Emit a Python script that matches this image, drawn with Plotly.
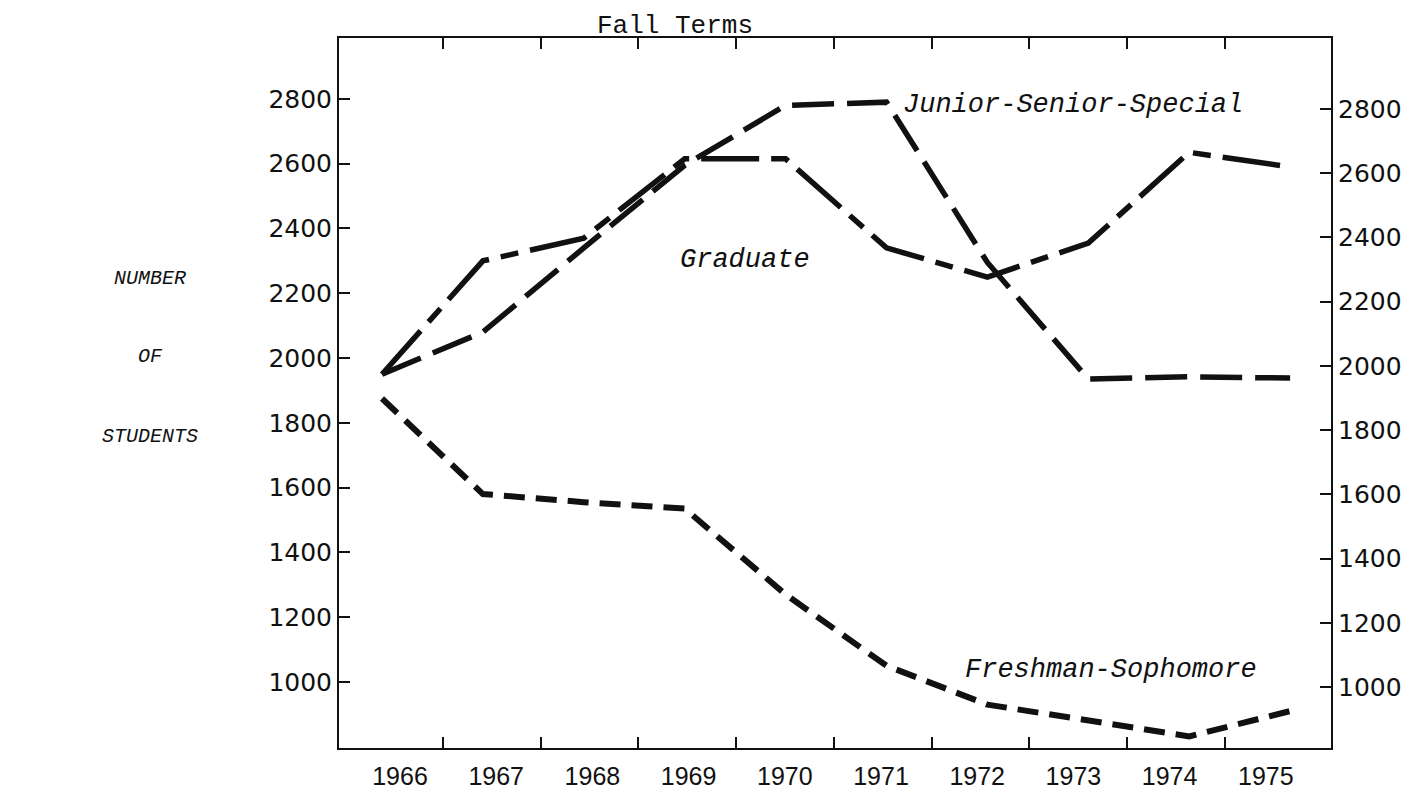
import plotly.graph_objects as go

# ---- data ----
years = [1966, 1967, 1968, 1969, 1970, 1971, 1972, 1973, 1974, 1975]
year_labels = [str(y) for y in years]
junior_senior_special = [1950, 2080, 2340, 2595, 2780, 2790, 2295, 1935, 1942, 1938]
graduate = [1950, 2300, 2370, 2615, 2615, 2340, 2250, 2355, 2635, 2590]
freshman_sophomore = [1875, 1580, 1555, 1535, 1270, 1050, 930, 880, 832, 910]
y_ticks = [1000, 1200, 1400, 1600, 1800, 2000, 2200, 2400, 2600, 2800]

# ---- layout geometry (target pixels in the 1409x791 page) ----
OFF = 8                                # default page body margin
W, H = 1409 - OFF, 791 - OFF
L, R, T, B = 339, 1331, 38, 748
x0_px, step_px = 382, 100.9          # pixel of first year, pixels per year
to_x = lambda px: years[0] + (px - x0_px) / step_px
x_range = [to_x(L), to_x(R)]
tick_pos = [to_x(443 + 97.7 * i) for i in range(9)]
label_pos = [to_x(400 + 96.2 * i) for i in range(10)]

ink = "#111111"
mono = "Liberation Mono, Courier New, monospace"
sans = "DejaVu Sans, sans-serif"

fig = go.Figure()
fig.add_trace(go.Scatter(x=years, y=junior_senior_special, mode="lines",
                         line=dict(color=ink, width=5.5, dash="42px,13px"),
                         name="Junior-Senior-Special", xaxis="x", yaxis="y"))
fig.add_trace(go.Scatter(x=years, y=graduate, mode="lines",
                         line=dict(color=ink, width=5.5, dash="58px,12px,18px,12px"),
                         name="Graduate", xaxis="x", yaxis="y"))
fig.add_trace(go.Scatter(x=years, y=freshman_sophomore, mode="lines",
                         line=dict(color=ink, width=6, dash="21px,11px"),
                         name="Freshman-Sophomore", xaxis="x", yaxis="y"))
fig.add_trace(go.Scatter(x=[years[0]], y=[y_ticks[0]], mode="markers",
                         marker=dict(opacity=0), xaxis="x2", yaxis="y2",
                         showlegend=False, hoverinfo="skip"))

fig.update_layout(
    width=W, height=H,
    margin=dict(l=L - OFF, r=W - (R - OFF), t=T - OFF, b=H - (B - OFF)),
    paper_bgcolor="white", plot_bgcolor="white",
    showlegend=False,
    title=dict(text="Fall Terms", x=(675 - OFF) / W, y=1 - (24 - OFF) / H,
               xanchor="center", yanchor="middle",
               font=dict(family=mono, size=26, color=ink)),
    xaxis=dict(range=x_range, tickmode="array", tickvals=tick_pos,
               ticktext=[""] * len(tick_pos), ticks="inside", ticklen=11,
               tickwidth=2, tickcolor=ink, showline=True, linewidth=2,
               linecolor=ink, mirror="ticks", showgrid=False, zeroline=False,
               automargin=False),
    xaxis2=dict(range=x_range, overlaying="x", side="bottom", anchor="y",
                tickmode="array", tickvals=label_pos, ticktext=year_labels,
                ticks="", showline=False, showgrid=False, zeroline=False,
                ticklabelstandoff=11, automargin=False,
                tickfont=dict(family="Liberation Sans, Arial, sans-serif",
                              size=25, color=ink)),
    yaxis=dict(range=[796, 2988], tickmode="array", tickvals=y_ticks,
               ticks="inside", ticklen=11, tickwidth=2, tickcolor=ink,
               showline=True, linewidth=2, linecolor=ink,
               showgrid=False, zeroline=False, ticklabelstandoff=0,
               automargin=False,
               tickfont=dict(family=sans, size=25, color=ink)),
    yaxis2=dict(range=[810, 3021], overlaying="y", side="right", anchor="x",
                tickmode="array", tickvals=y_ticks,
                ticks="inside", ticklen=11, tickwidth=2, tickcolor=ink,
                showline=True, linewidth=2, linecolor=ink,
                showgrid=False, zeroline=False, ticklabelstandoff=0,
                automargin=False,
                tickfont=dict(family=sans, size=25, color=ink)),
)

series_labels = [
    ("Junior-Senior-Special", to_x(1073), 2781),
    ("Graduate", to_x(745), 2302),
    ("Freshman-Sophomore", to_x(1111), 1037),
]
for text, x, y in series_labels:
    fig.add_annotation(text="<i>" + text + "</i>", x=x, y=y, xref="x", yref="y",
                       showarrow=False, xanchor="center", yanchor="middle",
                       font=dict(family=mono, size=27, color=ink))

axis_words = [("NUMBER", 278), ("OF", 357), ("STUDENTS", 437)]
for word, ypx in axis_words:
    fig.add_annotation(text="<i>" + word + "</i>", x=(150 - L) / (R - L),
                       y=(B - ypx) / (B - T), xref="paper", yref="paper",
                       showarrow=False, xanchor="center", yanchor="middle",
                       font=dict(family=mono, size=20, color=ink))

fig.write_html("out.html")
